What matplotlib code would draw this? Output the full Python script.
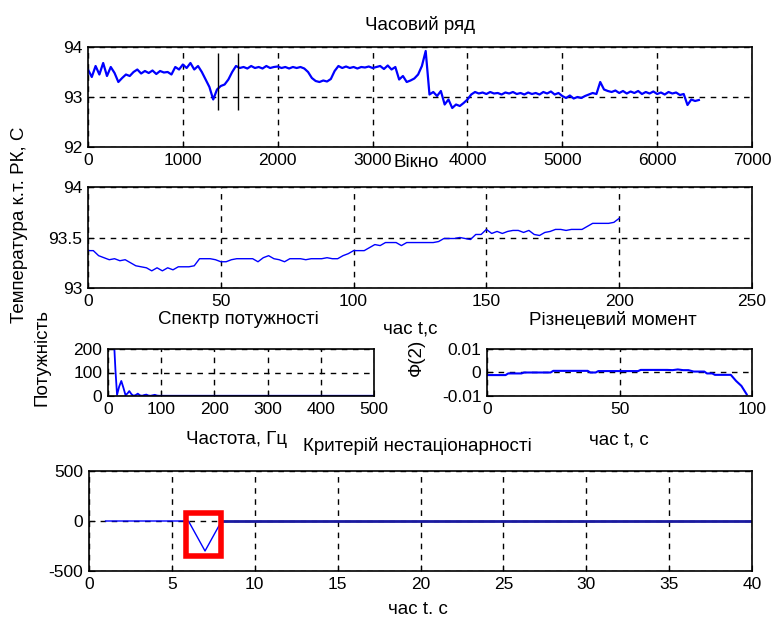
import numpy as np
import matplotlib
matplotlib.use("Agg")
import matplotlib.pyplot as plt
from matplotlib.patches import Rectangle

# time series (step 40), temperature
series_step = 40
series_vals = [
    93.55, 93.40, 93.62, 93.45, 93.68, 93.42, 93.60, 93.48, 93.30, 93.38,
    93.45, 93.42, 93.50, 93.55, 93.47, 93.52, 93.48, 93.53, 93.46, 93.52,
    93.49, 93.50, 93.45, 93.60, 93.55, 93.65, 93.58, 93.68, 93.55, 93.62,
    93.50, 93.35, 93.20, 92.95, 93.15, 93.22, 93.25, 93.35, 93.50, 93.62,
    93.58, 93.60, 93.57, 93.62, 93.58, 93.60, 93.57, 93.62, 93.58, 93.60,
    93.61, 93.58, 93.60, 93.57, 93.60, 93.58, 93.60, 93.57, 93.50, 93.38,
    93.32, 93.30, 93.33, 93.31, 93.36, 93.52, 93.62, 93.58, 93.61, 93.58,
    93.60, 93.57, 93.60, 93.59, 93.61, 93.58, 93.60, 93.62, 93.56, 93.63,
    93.55, 93.60, 93.35, 93.42, 93.30, 93.33, 93.37, 93.45, 93.62, 93.92,
    93.05, 93.10, 93.02, 93.12, 92.85, 92.95, 92.78, 92.85, 92.82, 92.88,
    92.95, 93.05, 93.10, 93.07, 93.09, 93.06, 93.10, 93.07, 93.08, 93.05,
    93.09, 93.07, 93.10, 93.06, 93.08, 93.05, 93.09, 93.06, 93.08, 93.05,
    93.10, 93.07, 93.11, 93.05, 93.08, 93.02, 92.98, 93.03, 92.97, 93.00,
    92.98, 93.02, 93.05, 93.08, 93.06, 93.30, 93.15, 93.12, 93.10, 93.13,
    93.08, 93.12, 93.07, 93.11, 93.08, 93.12, 93.06, 93.10, 93.07, 93.11,
    93.06, 93.09, 93.05, 93.10, 93.07, 93.09, 93.04, 93.06, 92.84, 92.95,
    92.92, 92.94,
]
window_bounds = [1375, 1582]
window_ylim = [92.75, 93.88]

# window (step 2)
win_step = 2
win_vals = [
    93.37, 93.37, 93.32, 93.30, 93.28, 93.29, 93.27, 93.28, 93.25, 93.22,
    93.21, 93.20, 93.17, 93.20, 93.17, 93.20, 93.18, 93.21, 93.21, 93.21,
    93.22, 93.29, 93.29, 93.29, 93.28, 93.26, 93.26, 93.28, 93.29, 93.29,
    93.29, 93.29, 93.26, 93.30, 93.32, 93.29, 93.28, 93.26, 93.29, 93.29,
    93.29, 93.28, 93.29, 93.29, 93.29, 93.30, 93.29, 93.29, 93.32, 93.34,
    93.37, 93.37, 93.37, 93.40, 93.43, 93.42, 93.45, 93.45, 93.45, 93.42,
    93.45, 93.45, 93.45, 93.45, 93.45, 93.45, 93.46, 93.49, 93.49, 93.49,
    93.50, 93.49, 93.48, 93.53, 93.53, 93.58, 93.54, 93.56, 93.54, 93.56,
    93.57, 93.57, 93.55, 93.57, 93.53, 93.52, 93.55, 93.56, 93.58, 93.58,
    93.57, 93.58, 93.58, 93.58, 93.61, 93.64, 93.64, 93.64, 93.64, 93.65,
    93.69,
]

# power spectrum
freq = [10, 12, 14, 17, 21, 25, 29, 33, 37, 40, 44, 48, 52, 56, 60, 64, 68,
        72, 76, 80, 84, 88, 92, 96, 100, 150, 200, 250, 300, 350, 400, 450, 500]
power = [260, 200, 110, 5, 40, 64, 35, 3, 12, 21, 8, 1, 4, 10, 3, 1, 4,
         6, 2, 1, 3, 5, 2, 1, 1, 1, 1, 1, 1, 1, 1, 1, 1]

# difference moment
mom_t = [0, 7, 8, 13, 14, 24, 25, 38, 39, 41, 42, 57, 58, 68, 70, 72, 74,
         76, 78, 82, 83, 85, 86, 92, 94, 96, 98]
mom_v = [-0.0011, -0.0011, -0.0004, -0.0004, 0.0, 0.0, 0.0007, 0.0007, 0.0,
         0.0, 0.0006, 0.0006, 0.0011, 0.0011, 0.0010, 0.0013, 0.0010,
         0.0010, 0.0004, 0.0004, -0.0004, -0.0004, -0.0010, -0.0010,
         -0.0036, -0.0057, -0.0093]

# non-stationarity criterion
crit_t = list(range(1, 41))
crit_v = [0, 0, 0, 0, 0, 0, -300, 0, 0, 0, 0, 0, 0, 0, 0, 0, 0, 0, 0, 0,
          0, 0, 0, 0, 0, 0, 0, 0, 0, 0, 0, 0, 0, 0, 0, 0, 0, 0, 0, 0]

plt.rcParams['font.family'] = ['Liberation Sans', 'DejaVu Sans']
plt.rcParams['font.size'] = 13.5
plt.rcParams['axes.unicode_minus'] = False

W, H = 772, 622
fig = plt.figure(figsize=(W / 100, H / 100), dpi=100)


def add_ax(x0, y0, x1, y1):
    # pixel box -> figure fraction
    return fig.add_axes([x0 / W, 1 - y1 / H, (x1 - x0) / W, (y1 - y0) / H])


def style(ax):
    ax.grid(True, color='black', linestyle=(0, (4, 4)), linewidth=1)
    ax.tick_params(direction='in', length=4, labelsize=12.5, pad=4)
    for s in ax.spines.values():
        s.set_linewidth(1.2)


def ftext(x, y, s, **kw):
    fig.text(x / W, 1 - y / H, s, ha='center', va='center', **kw)


blue = '#0000ff'

ax1 = add_ax(88, 47, 752, 147)
t1 = np.arange(len(series_vals)) * series_step
ax1.plot(t1, series_vals, color=blue, lw=1.6)
ax1.vlines(window_bounds, window_ylim[0], window_ylim[1], color='black', lw=1)
ax1.set_xlim(0, 7000)
ax1.set_ylim(92, 94)
ax1.set_yticks([92, 93, 94])
ax1.set_xticks(range(0, 7001, 1000))
style(ax1)

ax2 = add_ax(88, 187, 752, 288)
t2 = np.arange(len(win_vals)) * win_step
ax2.plot(t2, win_vals, color=blue, lw=1)
ax2.set_xlim(0, 250)
ax2.set_ylim(93, 94)
ax2.set_xticks(range(0, 251, 50))
ax2.set_yticks([93, 93.5, 94])
ax2.set_yticklabels(['93', '93.5', '94'])
style(ax2)

ax3 = add_ax(108, 349, 374, 396)
ax3.plot(freq, power, color=blue, lw=1.3)
ax3.set_xlim(0, 500)
ax3.set_ylim(0, 200)
ax3.set_xticks(range(0, 501, 100))
ax3.set_yticks([0, 100, 200])
style(ax3)

ax4 = add_ax(487, 349, 752, 396)
ax4.plot(mom_t, mom_v, color=blue, lw=1.5)
ax4.set_xlim(0, 100)
ax4.set_ylim(-0.01, 0.01)
ax4.set_yticks([-0.01, 0, 0.01])
ax4.set_yticklabels(['-0.01', '0', '0.01'])
ax4.set_xticks([0, 50, 100])
style(ax4)

ax5 = add_ax(89, 471, 752, 571)
ax5.plot(crit_t[:8], crit_v[:8], color=blue, lw=1)
ax5.plot(crit_t[7:], crit_v[7:], color='#1a1aa0', lw=2)
ax5.set_xlim(0, 40)
ax5.set_ylim(-500, 500)
ax5.set_yticks([-500, 0, 500])
ax5.set_xticks(range(0, 41, 5))
style(ax5)
ax5.add_patch(Rectangle((5.85, -350), 2.1, 430, fill=False,
                        edgecolor='red', lw=4, zorder=5))

# labels and titles
ftext(420, 25, 'Часовий ряд')
ftext(416, 163, 'Вікно')
ftext(20, 225, 'Температура к.т. РК, С', rotation=90)
ftext(238, 320, 'Спектр потужності')
ftext(410, 329, 'час t,с')
ftext(613, 320, 'Різнецевий момент')
ftext(42, 358, 'Потужність', rotation=90)
ftext(416, 357, 'Ф(2)', rotation=90)
ftext(237, 440, 'Частота, Гц')
ftext(417, 446, 'Критерій нестаціонарності')
ftext(619, 440, 'час t, с')
ftext(418, 610, 'час t. c')

fig.savefig('out.png', dpi=100)
